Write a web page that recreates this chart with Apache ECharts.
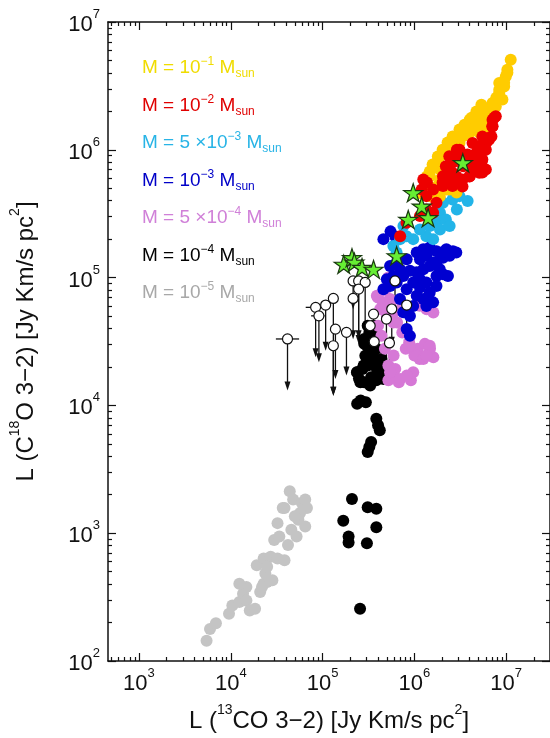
<!DOCTYPE html>
<html>
<head>
<meta charset="utf-8">
<script src="https://cdn.jsdelivr.net/npm/echarts@6/dist/echarts.min.js"></script>
<style>
  html, body { margin: 0; padding: 0; background: #fff; overflow: hidden; }
  #chart { width: 550px; height: 738px; }
</style>
</head>
<body>
<div id="chart"></div>
<script>
// ---- data: [L(13CO 3-2), L(C18O 3-2)] in Jy km/s pc^2 ----
var mass1e1 = [[11.2e6,5.06e6],[10.3e6,4.23e6],[9.9e6,3.74e6],[9.5e6,3.13e6],[8.4e6,3.33e6],[8.4e6,2.78e6],[9.1e6,2.47e6],
  [7.1e6,2.32e6],[7.7e6,2.18e6],[7.1e6,1.94e6],[6.0e6,1.94e6],[4.7e6,1.88e6],[6.0e6,1.62e6],[5.1e6,1.72e6],[4.0e6,1.72e6],
  [4.3e6,1.53e6],[4.0e6,1.36e6],[5.1e6,1.36e6],[3.4e6,1.28e6],[3.1e6,1.13e6],[2.6e6,1.06e6],[2.2e6,1.0e6],[1.9e6,0.89e6],
  [1.74e6,0.79e6],[1.6e6,0.745e6],[1.9e6,0.70e6],[1.47e6,0.62e6],[1.35e6,0.52e6],[1.15e6,0.46e6],[1.47e6,0.434e6],
  [2.86e6,0.49e6],[2.23e6,0.49e6],[1.9e6,0.586e6],
  [10.3e6,4.0e6],[9.5e6,3.34e6],[8.4e6,2.95e6],[7.8e6,2.55e6],[7.06e6,2.17e6],[6.24e6,1.95e6],[5.37e6,2.25e6],
  [4.74e6,1.99e6],[4.19e6,1.78e6],[3.52e6,1.57e6],[3.1e6,1.44e6],[2.61e6,1.27e6],[2.3e6,1.14e6],[2.03e6,1.0e6],
  [1.8e6,0.886e6],[1.58e6,0.767e6],[1.47e6,0.677e6],[1.37e6,0.618e6],[2.24e6,0.95e6],[4.74e6,1.57e6],[5.5e6,1.72e6],
  [6.55e6,1.72e6],[6.08e6,1.44e6],[1.75e6,0.516e6],[2.42e6,0.489e6],[2.88e6,0.463e6],[1.89e6,0.431e6]];
var mass1e2 = [[7.7e6,1.83e6],[7.1e6,1.72e6],[7.1e6,1.53e6],[6.5e6,1.2e6],[6.0e6,1.0e6],[5.1e6,1.06e6],[4.3e6,1.13e6],
  [5.5e6,0.84e6],[6.0e6,0.70e6],[4.7e6,0.70e6],[5.1e6,0.66e6],[4.0e6,0.62e6],[3.1e6,0.586e6],[2.6e6,0.66e6],[2.2e6,0.745e6],
  [2.4e6,0.89e6],[2.9e6,1.0e6],[2.05e6,0.62e6],[2.6e6,0.52e6],[2.05e6,0.52e6],[1.6e6,0.49e6],[1.35e6,0.434e6],
  [1.74e6,0.385e6],[1.35e6,0.341e6],[1.6e6,0.322e6],[1.25e6,0.586e6],[3.4e6,0.745e6],[3.7e6,0.89e6],[4.3e6,0.84e6],
  [0.70e6,0.211e6],[0.82e6,0.269e6],[1.15e6,0.303e6],
  [7.4e6,1.78e6],[7.06e6,1.52e6],[6.9e6,1.27e6],[6.08e6,1.14e6],[5.5e6,1.27e6],[5.1e6,1.06e6],[4.74e6,0.95e6],
  [5.37e6,0.794e6],[5.5e6,0.664e6],[4.5e6,0.677e6],[3.98e6,0.618e6],[3.34e6,0.586e6],[2.88e6,0.618e6],[2.42e6,0.702e6],
  [2.24e6,0.618e6],[2.03e6,0.555e6],[2.61e6,0.555e6],[3.34e6,0.516e6],[3.98e6,0.74e6],[3.79e6,0.918e6],[3.1e6,1.0e6],
  [2.88e6,0.886e6],[2.61e6,0.794e6],[1.37e6,0.555e6],[1.2e6,0.489e6]];
var mass5e3 = [[2.05e6,385e3],[2.6e6,409e3],[3.8e6,397e3],[1.9e6,322e3],[1.74e6,269e3],[1.47e6,253e3],[1.35e6,211e3],
  [1.9e6,238e3],[2.2e6,285e3],[0.97e6,200e3],[0.82e6,211e3],[0.70e6,200e3],[0.59e6,177e3],[0.64e6,157e3],[0.76e6,253e3],
  [2.9e6,341e3],[1.15e6,238e3],[1.6e6,200e3],[2.42e6,253e3],[3.1e6,434e3]];
var mass1e3 = [[543e3,123e3],[641e3,131e3],[824e3,139e3],[1.06e6,157e3],[1.25e6,167e3],[1.47e6,172e3],[1.74e6,161e3],
  [2.23e6,167e3],[2.63e6,161e3],[2.42e6,148e3],[2.05e6,143e3],[1.74e6,131e3],[1.47e6,123e3],[1.25e6,116e3],[1.06e6,110e3],
  [894e3,113e3],[757e3,103e3],[641e3,91.5e3],[543e3,86e3],[460e3,81e3],[501e3,97e3],[971e3,91.5e3],[1.15e6,83.7e3],
  [1.35e6,91.5e3],[1.74e6,103e3],[2.05e6,106e3],[2.32e6,103e3],[1.47e6,76.6e3],[1.25e6,67.9e3],[1.06e6,72e3],[824e3,81e3],
  [697e3,67.9e3],[757e3,53.5e3],[824e3,39.6e3],[894e3,35e3],[1.35e6,60e3],[1.6e6,64e3],[1.89e6,116e3],[460e3,200e3],
  [550e3,230e3],[620e3,210e3],
  [590e3,103e3],[697e3,116e3],[1.15e6,139e3],[1.35e6,148e3],[1.6e6,131e3],[1.97e6,157e3],[2.86e6,157e3],[1.74e6,86e3],
  [1.15e6,97e3],[971e3,60e3],[894e3,50e3]];
var mass5e4 = [[478e3,56.6e3],[594e3,53.3e3],[648e3,44.6e3],[738e3,37.2e3],[878e3,31.2e3],[1.09e6,27.7e3],[1.36e6,24.6e3],
  [1.61e6,23.8e3],[1.14e6,23.1e3],[1.30e6,30.3e3],[1.48e6,27.7e3],[521e3,20.5e3],[569e3,17.1e3],[676e3,15.2e3],[916e3,15.7e3],
  [521e3,15.7e3],[619e3,19.3e3],[1.36e6,56.6e3],[1.61e6,53.3e3],[1.14e6,60.1e3],[438e3,35.1e3],[478e3,27.7e3],[594e3,24.6e3],
  [805e3,27.7e3],[1.0e6,24.6e3],[402e3,42e3],[738e3,60.1e3],[400e3,70e3],[480e3,80e3],[450e3,60e3],[550e3,65e3],[520e3,100e3],
  [390e3,72e3],[460e3,64e3],[424e3,56.8e3],[543e3,68e3],[500e3,50.2e3],[590e3,44.6e3],[894e3,29.3e3],[1.06e6,24.5e3],
  [1.25e6,23.1e3],[1.47e6,29.3e3],[1.35e6,24.5e3],[971e3,18.2e3],[543e3,18.2e3],[697e3,16.1e3],[824e3,17.1e3]];
var mass1e4 = [[209e3,1855],[168e3,1250],[192e3,942],[192e3,844],[310e3,1596],[385e3,1556],[385e3,1114],[304e3,834],
  [256e3,256],[238e3,10.3e3],[260e3,10.9e3],[296e3,10.6e3],[385e3,7.87e3],[402e3,6.98e3],[420e3,6.38e3],[338e3,5.18e3],
  [323e3,4.73e3],[310e3,4.32e3],[238e3,18.2e3],[272e3,19.3e3],[310e3,20.5e3],[338e3,16.6e3],[385e3,15.7e3],[420e3,18.2e3],
  [457e3,19.9e3],[284e3,15.2e3],[249e3,16.2e3],[338e3,21.8e3],[352e3,24.6e3],[323e3,27.7e3],[284e3,33.1e3],[323e3,37.2e3],
  [310e3,42e3],[284e3,30.3e3],[385e3,27.7e3],[438e3,23.1e3],[478e3,20.5e3],
  [237e3,18.2e3],[280e3,20.5e3],[330e3,23.1e3],[390e3,19.3e3],[460e3,16.1e3],[258e3,15.2e3],[330e3,14.3e3],[424e3,21.8e3],
  [304e3,29.3e3],[359e3,37.3e3],[292e3,24.5e3]];
var mass1e5 = [[5450,144],[5940,178],[6890,197],[9570,234],[10400,272],[12400,289],[13600,336],[14800,298],[16100,248],
  [18400,256],[20900,346],[22800,403],[24900,415],[28400,428],[21900,380],[23800,483],[19200,562],[22800,635],[27200,655],
  [32300,635],[38500,615],[29700,886],[33800,942],[42000,809],[45700,1062],[38500,1574],[43900,2133],[47800,1833],
  [54500,1274],[59400,1725],[64700,1833],[67600,1574],[64700,1129],[52100,942],[56900,1439],[32300,1199],[36800,1574],
  [49900,1355],[24900,546],[14800,380],[12400,403]];
// observed sources: detections (stars) and upper limits [x, y, yArrowEnd]
var detections = [[3.37e6,791e3],[971e3,461e3],[1.2e6,362e3],[857e3,285e3],[1.41e6,294e3],[641e3,148e3],
  [170e3,127e3],[209e3,143e3],[222e3,132e3],[269e3,120e3],[359e3,116e3]];
var upperLimits = [[41.5e3,33.1e3,13.1e3],[84e3,58.5e3,23.8e3],[91.2e3,50.2e3,21.8e3],[108e3,61e3,26.8e3],
  [131e3,68.7e3,11.9e3],[138e3,39.5e3,16.1e3],[131e3,29.3e3,11.9e3],[182e3,37.3e3,17.1e3],[215e3,94.2e3,56.6e3],
  [247e3,94.2e3,33e3],[291e3,91.6e3,37.5e3],[215e3,68.7e3,33e3],[247e3,81.3e3,30.2e3],[359e3,51.8e3,39.6e3],
  [330e3,42e3,27.7e3],[365e3,31.5e3,23.1e3],[496e3,47.4e3,14.3e3],[567e3,56.8e3,29.3e3],[535e3,30.8e3,14.3e3],
  [615e3,94.2e3,42e3],[824e3,61e3,27.7e3]];
// horizontal error bars on some limits [x, y, xLow, xHigh]
var limitErrX = [[41.5e3,33.1e3,31e3,55.5e3],[84e3,58.5e3,65.5e3,108e3],[91.2e3,50.2e3,75e3,105e3]];

var xMajor = [1e3, 1e4, 1e5, 1e6, 1e7];
var yMajor = [1e2, 1e3, 1e4, 1e5, 1e6, 1e7];

var massNames = ['M = 10^-1 Msun', 'M = 10^-2 Msun', 'M = 5x10^-3 Msun', 'M = 10^-3 Msun',
  'M = 5x10^-4 Msun', 'M = 10^-4 Msun', 'M = 10^-5 Msun'];
var massRich = ['{m|M = 10}{p|−1}{m| M}{b|sun}', '{m|M = 10}{p|−2}{m| M}{b|sun}', '{m|M = 5 ×10}{p|−3}{m| M}{b|sun}',
  '{m|M = 10}{p|−3}{m| M}{b|sun}', '{m|M = 5 ×10}{p|−4}{m| M}{b|sun}', '{m|M = 10}{p|−4}{m| M}{b|sun}',
  '{m|M = 10}{p|−5}{m| M}{b|sun}'];
var massData = [mass1e1, mass1e2, mass5e3, mass1e3, mass5e4, mass1e4, mass1e5];
var dotColors = ['#ffcc00', '#ee0000', '#22b4e8', '#0000d0', '#d678d6', '#000000', '#c4c4c4'];
var textColors = ['#f0dc00', '#e00000', '#28b4e6', '#0000c8', '#d080d8', '#000000', '#a8a8a8'];
var drawOrder = [6, 5, 4, 3, 2, 0, 1];

function minorTicks(lo, hi) {
  var out = [];
  for (var e = 2; e <= 7; e++) {
    for (var k = 2; k <= 9; k++) {
      var v = k * Math.pow(10, e);
      if (v > lo && v < hi) out.push(v);
    }
  }
  return out;
}

var xMin = 460, xMax = 3e7, yMin = 1e2, yMax = 1e7;
var font = 'Liberation Sans, Arial, Helvetica, sans-serif';
var tickRich = {
  b: { fontSize: 22, fontFamily: font, color: '#111', lineHeight: 28, verticalAlign: 'bottom' },
  s: { fontSize: 13, fontFamily: font, color: '#111', lineHeight: 13, verticalAlign: 'top' }
};
var nameRich = {
  t: { fontSize: 24, fontFamily: font, color: '#111', lineHeight: 30, verticalAlign: 'bottom' },
  s: { fontSize: 14, fontFamily: font, color: '#111', lineHeight: 14, verticalAlign: 'top' }
};
function powLabel(v) {
  return '{b|10}{s|' + Math.round(Math.log10(v)) + '}';
}

function makeAxis(dim, pos, major) {
  var isX = dim === 'x';
  var ax = {
    type: 'log', logBase: 10, position: pos,
    min: isX ? xMin : yMin, max: isX ? xMax : yMax,
    splitLine: { show: false },
    axisLine: { show: major, onZero: false, lineStyle: { color: '#111', width: 1.5 } },
    axisTick: {
      show: true, inside: true, length: major ? 8 : 4,
      lineStyle: { color: '#111', width: 1.2 },
      customValues: major ? (isX ? xMajor : yMajor) : (isX ? minorTicks(xMin, xMax) : minorTicks(yMin, yMax))
    },
    axisLabel: { show: false },
    minorTick: { show: false }
  };
  if (major && (pos === 'bottom' || pos === 'left')) {
    ax.axisLabel = {
      show: true, margin: isX ? 6 : 8,
      customValues: isX ? xMajor : yMajor,
      formatter: powLabel, rich: tickRich
    };
    ax.nameLocation = 'middle';
    ax.nameTextStyle = { rich: nameRich };
    if (isX) {
      ax.name = '{t|L (}{s|13}{t|CO 3−2) [Jy Km/s pc}{s|2}{t|]}';
      ax.nameGap = 42;
    } else {
      ax.name = '{t|L (C}{s|18}{t|O 3−2) [Jy Km/s pc}{s|2}{t|]}';
      ax.nameGap = 70;
      ax.nameRotate = 90;
    }
  }
  return ax;
}

var series = drawOrder.map(function (i) {
  return {
    name: massNames[i], type: 'scatter', data: massData[i],
    symbol: 'circle', symbolSize: 12,
    itemStyle: { color: dotColors[i], opacity: 1 },
    emphasis: { disabled: true }, silent: true
  };
});

series.push({
  name: 'limits', type: 'custom', data: upperLimits, encode: { x: 0, y: 1 }, silent: true,
  renderItem: function (params, api) {
    var p0 = api.coord([api.value(0), api.value(1)]);
    var p1 = api.coord([api.value(0), api.value(2)]);
    return {
      type: 'group', children: [
        { type: 'line', shape: { x1: p0[0], y1: p0[1], x2: p1[0], y2: p1[1] - 4 },
          style: { stroke: '#111', lineWidth: 1.3 } },
        { type: 'polygon', shape: { points: [[p1[0] - 3, p1[1] - 9], [p1[0] + 3, p1[1] - 9], [p1[0], p1[1]]] },
          style: { fill: '#111' } }
      ]
    };
  }
});
series.push({
  name: 'limitErr', type: 'custom', data: limitErrX, encode: { x: 0, y: 1 }, silent: true,
  renderItem: function (params, api) {
    var a = api.coord([api.value(2), api.value(1)]);
    var b = api.coord([api.value(3), api.value(1)]);
    return { type: 'line', shape: { x1: a[0], y1: a[1], x2: b[0], y2: b[1] },
      style: { stroke: '#111', lineWidth: 1.3 } };
  }
});
series.push({
  name: 'limitPts', type: 'scatter', data: upperLimits.map(function (d) { return [d[0], d[1]]; }),
  symbol: 'circle', symbolSize: 10, silent: true,
  itemStyle: { color: '#fff', borderColor: '#111', borderWidth: 1.2, opacity: 1 }
});
series.push({
  name: 'detections', type: 'scatter', data: detections, silent: true,
  symbol: 'path://M100,0 L122.45,69.1 L195.1,69.1 L136.33,111.8 L158.78,180.9 L100,138.2 L41.22,180.9 L63.67,111.8 L4.9,69.1 L77.55,69.1 Z',
  symbolSize: [19, 18],
  itemStyle: { color: '#66ee33', borderColor: '#1a3a10', borderWidth: 1.2, opacity: 1 }
});

var chart = echarts.init(document.getElementById('chart'), null, { renderer: 'canvas' });
chart.setOption({
  animation: false,
  backgroundColor: '#fff',
  grid: { left: 106, right: -2, top: 22, bottom: 75, containLabel: false },
  xAxis: [makeAxis('x', 'bottom', true), makeAxis('x', 'bottom', false), makeAxis('x', 'top', true), makeAxis('x', 'top', false)],
  yAxis: [makeAxis('y', 'left', true), makeAxis('y', 'left', false), makeAxis('y', 'right', true), makeAxis('y', 'right', false)],
  legend: {
    orient: 'vertical', left: 132, top: 51, itemGap: 13.5,
    icon: 'none', itemWidth: 0, itemHeight: 0, selectedMode: false,
    data: massNames.map(function (n, i) { return { name: n, textStyle: { color: textColors[i] } }; }),
    formatter: function (name) { return massRich[massNames.indexOf(name)]; },
    textStyle: {
      rich: {
        m: { fontSize: 19, fontFamily: font, lineHeight: 24, verticalAlign: 'middle' },
        p: { fontSize: 12, fontFamily: font, lineHeight: 12, verticalAlign: 'top' },
        b: { fontSize: 12, fontFamily: font, lineHeight: 12, verticalAlign: 'bottom' }
      }
    }
  },
  series: series
});
</script>
</body>
</html>
